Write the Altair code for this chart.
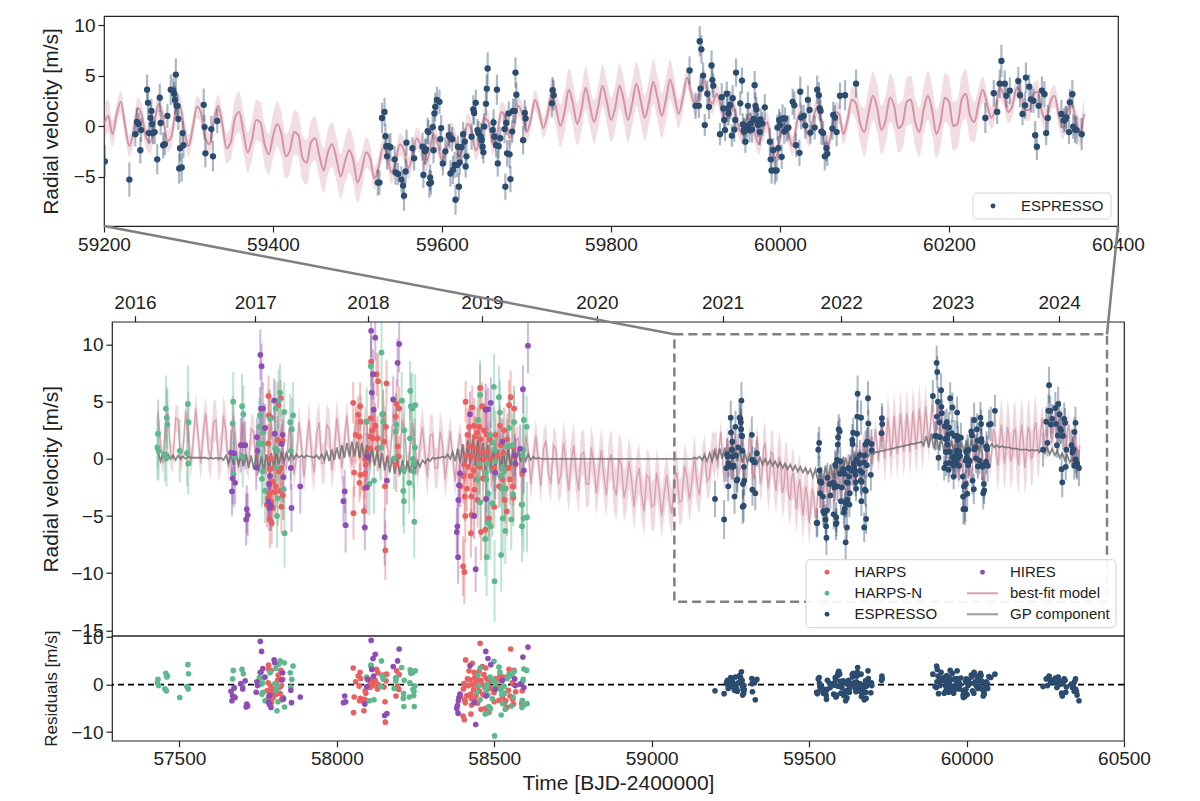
import altair as alt
import pandas as pd

# ------------------------------------------------------------------ data
INSTR = ["HARPS", "HARPS-N", "ESPRESSO", "HIRES"]

harps_t = [57783, 57814, 57822, 57784, 57791, 57782, 57812, 57828, 57790, 57788, 57801, 57817, 57823, 57796, 57806, 57785, 57803, 57820, 57829, 57781, 57792, 57824, 57797, 57787, 57793, 57778,
           58109, 58126, 58131, 58158, 58052, 58074, 58068, 58076, 58108, 58122, 58113, 58147, 58156, 58060, 58071, 58106, 58114, 58129, 58105, 58090, 58092, 58190, 58198, 58187, 58193, 58188, 58197, 58055, 58075, 58089, 58072, 58087, 58053, 58086, 58153, 58154, 58130, 58150,
           58455, 58409, 58552, 58430, 58462, 58473, 58547, 58563, 58420, 58436, 58452, 58467, 58518, 58531, 58415, 58438, 58446, 58457, 58475, 58487, 58504, 58520, 58541, 58557, 58423, 58441, 58459, 58478, 58411, 58432,
           58448, 58469, 58489, 58510, 58529, 58565, 58404, 58418, 58434, 58453, 58499, 58545, 58568, 58589, 58402, 58425, 58443, 58464, 58526, 58550, 58393, 58413, 58437, 58515, 58536, 58559, 58406, 58427, 58447, 58533,
           58561, 58587, 58408, 58428, 58458, 58472, 58426, 58401, 58405, 58483, 58540, 58500]
harps_rv = [5.5, 4.7, 5.3, 3.8, 3.6, 1.35, 1.65, 1.6, 0.05, -0.9, -0.8, -1.1, -0.8, -2.0, -2.4, -3.0, -2.9, -2.8, -3.2, -3.45, -3.75, -4.2, -4.3, -5.3, -5.6, -4.0,
            8.5, 7.4, 6.8, 6.6, 4.9, 4.6, 3.85, 3.25, 3.55, 2.9, 2.5, 3.9, 2.8, 2.1, 1.95, 1.95, 1.8, 0.9, 0.9, -0.05, -0.5, 4.8, 4.4, 3.7, 1.1, -0.5, 0.2, -1.2, -1.4, -1.3, -2.1, -2.55, -4.75, -4.55, -2.4, -8.0, 1.8, 1.5,
            6.2, 5.0, 5.4, 4.5, 4.6, 4.3, 4.7, 4.4, 2.8, 2.9, 2.8, 2.5, 2.9, 2.5, 2.1, 1.95, 2.3, 1.7, 2.1, 1.7, 2.1, 1.2, 1.7, 1.1, 1.1, 0.9, 0.6, 0.6, 0.3, 0.2,
            -0.1, -0.1, 0.0, 0.2, 0.5, 0.2, -0.5, -0.7, -1.0, -0.7, -0.8, -0.8, -0.5, -1.3, -1.5, -1.5, -1.8, -1.7, -1.8, -1.8, -2.4, -2.6, -2.7, -2.4, -2.6, -2.4, -3.3, -3.3, -3.6, -3.6,
            -3.4, -4.0, -5.0, -4.9, -6.4, -6.2, -6.5, -9.4, -9.9, -5.2, -4.6, -4.2]
harps_err = [1.8, 2.0, 1.6, 2.2, 1.9, 1.7, 2.1, 1.8, 2.3, 1.6, 1.9, 2.0, 1.7, 2.2, 1.8, 2.4, 1.9, 1.6, 2.1, 2.0, 1.8, 2.3, 1.7, 2.5, 1.9, 2.0,
             2.2, 1.9, 2.4, 2.0, 1.8, 2.1, 1.7, 2.3, 1.9, 2.0, 1.6, 2.2, 1.8, 2.5, 1.9, 1.7, 2.1, 2.0, 1.8, 2.3, 1.6, 2.2, 1.9, 2.0, 1.7, 2.4, 1.8, 2.1, 1.9, 2.2, 1.7, 2.0, 2.3, 1.8, 2.1, 2.6, 1.9, 2.0,
             2.0, 1.8, 2.3, 1.9, 2.1, 1.7, 2.2, 2.0, 1.8, 2.4, 1.9, 2.1, 1.7, 2.0, 2.3, 1.8, 2.2, 1.9, 2.0, 1.6, 2.1, 2.4, 1.8, 2.0, 1.9, 2.2, 1.7, 2.3, 2.0, 1.8,
             2.1, 1.9, 2.5, 1.8, 2.0, 2.2, 1.7, 2.1, 1.9, 2.3, 2.0, 1.8, 2.2, 1.9, 2.4, 2.0, 1.7, 2.1, 1.9, 2.2, 1.8, 2.0, 2.3, 1.9, 2.1, 1.7, 2.2, 2.0, 2.4, 1.8,
             2.1, 1.9, 2.3, 2.0, 2.5, 2.2, 2.1, 2.6, 2.8, 2.0, 2.2, 1.9]
harps_res = [4.1, 2.0, 3.0, 3.2, 2.9, 0.4, 0.9, 1.1, -0.3, -1.2, -1.0, -0.6, -0.3, -1.5, -2.0, -2.6, -2.2, -1.9, -2.7, -3.1, -3.8, -3.2, -2.8, -3.8, -2.4, -1.3,
             3.8, 3.2, 2.5, 2.2, 3.5, 2.6, 1.8, 1.3, 1.1, 0.9, 0.4, 2.0, 0.8, 0.6, -0.3, 0.2, -0.2, -0.9, -0.6, -1.3, -1.8, 2.9, 2.1, 1.4, -0.3, -2.4, -1.0, -2.6, -2.9, -3.1, -3.4, -3.8, -5.9, -5.5, -3.6, -7.9, 0.1, -0.5,
             8.7, 5.2, 7.5, 4.5, 3.8, 3.5, 3.2, 3.0, 2.9, 2.6, 2.8, 2.1, 2.0, 1.6, 1.2, 1.5, 1.0, 0.9, 1.3, 0.7, 1.2, 0.9, 1.4, 0.4, 1.0, 0.6, 0.3, 0.1, -0.2, 0.0,
             -0.4, -0.5, -0.8, -0.6, -0.3, -0.1, 0.2, -0.2, -1.1, -1.4, -1.7, -1.2, -1.5, -1.3, -0.9, -2.0, -2.2, -2.1, -2.6, -2.4, -2.5, -2.3, -3.0, -3.3, -3.4, -3.1, -3.2, -2.9, -3.9, -3.7,
             -4.1, -4.0, -3.8, -4.3, -5.2, -5.0, -6.2, -6.6, -7.4, -5.8, -4.8, -3.6]

harpsn_t = [57430, 57432, 57434, 57454, 57457, 57460, 57462, 57459, 57501, 57527, 57529, 57524, 57528,
            57671, 57669, 57699, 57703, 57672, 57674, 57701, 57754, 57756, 57764, 57759, 57752, 57767, 57765, 57762, 57772, 57788, 57806, 57815, 57820, 57804, 57812, 57807, 57831, 57813, 57810, 57833, 57852, 57857, 57861, 57854, 57834,
            58142, 58108, 58233, 58235, 58249, 58240, 58206, 58214, 58232, 58144, 58147, 58095, 58187, 58189, 58248, 58140, 58182, 58242, 58245, 58212, 58244, 58118, 58230, 58211, 58213, 58246, 58103,
            58499, 58515, 58455, 58518, 58448, 58594, 58603, 58547, 58563, 58487, 58497, 58501, 58541, 58557, 58592, 58590, 58452, 58478, 58504, 58526,
            58473, 58502, 58531, 58520, 58446, 58475, 58524, 58533, 58560, 58480, 58455, 58494, 58589, 58527, 58554, 58593, 58604, 58483, 58488, 58471, 58535, 58588, 58476, 58522, 58501]
harpsn_rv = [1.0, 2.2, 0.7, 0.4, 4.4, 3.6, 3.0, 0.05, 0.7, 4.8, 3.2, 0.5, -0.4,
             5.0, 3.1, 4.6, 3.9, -1.35, 0.2, 0.2, 2.8, 3.8, 1.3, 1.3, 1.4, 2.3, -1.1, -1.75, -2.8, 3.5, 4.4, 5.1, 5.8, 0.9, 0.7, -0.75, -2.65, -3.45, -5.0, 4.1, 3.2, 2.6, 3.8, 0.7, -6.5,
             9.3, 8.1, 5.95, 4.6, 4.7, 4.4, 5.1, 2.5, 1.8, 3.9, 3.25, 3.25, 2.4, 3.0, 1.0, 1.0, 0.05, 0.0, -0.4, -1.0, -1.1, -1.9, -2.1, -2.8, -3.7, -5.5, -2.2,
             6.3, 5.4, 5.6, 4.05, 3.4, 3.4, 2.8, 2.7, 3.2, 2.1, 1.4, 0.8, 1.1, 1.2, 0.8, 0.3, -0.4, -0.4, -0.2, -0.7,
             -1.2, -1.2, -1.1, -1.5, -1.8, -1.8, -2.6, -2.6, -3.1, -3.0, -3.8, -3.9, -4.0, -5.2, -5.3, -5.2, -5.1, -5.6, -5.9, -7.0, -6.3, -5.9, -8.6, -8.4, -10.7]
harpsn_err = [2.8, 3.0, 2.6, 2.4, 2.9, 2.7, 3.1, 2.5, 2.8, 3.4, 2.6, 2.9, 2.7,
              2.6, 2.4, 2.8, 2.5, 2.9, 2.3, 2.7, 2.6, 2.5, 2.8, 2.4, 2.7, 2.6, 2.9, 2.5, 2.8, 2.6, 2.4, 2.7, 2.5, 2.8, 2.6, 2.9, 2.7, 2.4, 2.8, 2.6, 2.5, 2.7, 2.9, 2.6, 3.0,
              3.0, 2.8, 2.6, 2.9, 2.7, 3.1, 2.5, 2.8, 2.6, 2.9, 2.7, 3.0, 2.6, 2.8, 2.5, 2.9, 2.7, 2.6, 3.0, 2.8, 2.6, 2.9, 2.7, 3.1, 2.8, 3.2, 2.7,
              2.9, 2.7, 3.1, 2.8, 2.6, 3.0, 2.7, 2.9, 2.8, 2.6, 3.1, 2.7, 2.9, 2.8, 3.0, 2.6, 2.8, 3.1, 2.7, 2.9,
              2.6, 3.0, 2.8, 2.7, 3.2, 2.9, 2.6, 3.0, 2.8, 2.7, 3.1, 2.9, 2.8, 3.0, 2.7, 2.9, 3.1, 2.8, 3.0, 3.3, 2.9, 3.1, 3.4, 3.2, 3.6]
harpsn_res = [0.4, 1.1, -0.2, -0.9, 2.4, 1.6, 1.8, -1.3, -2.7, 4.2, 2.3, -0.4, -0.9,
              3.0, 1.2, 3.2, 2.3, -2.4, -0.8, -0.4, 1.5, 2.6, 0.3, 0.1, 0.6, 1.4, -1.6, -2.0, -3.4, 2.5, 3.4, 4.3, 5.0, 0.2, -0.3, -1.2, -3.0, -3.6, -5.5, 4.6, 2.5, 1.1, 3.9, -0.5, -4.7,
              5.0, 4.1, 3.1, 2.4, 2.9, 2.5, 3.6, 0.9, 0.4, 1.8, 1.2, 1.6, 0.8, 1.5, -0.3, -0.4, -0.8, -1.0, -1.4, -1.9, -2.3, -3.2, -2.6, -2.9, -4.6, -4.6, -3.4,
              4.9, 3.7, 3.5, 2.6, 2.0, 3.3, 3.0, 2.2, 2.8, 1.6, 0.9, 0.5, 1.3, 1.8, 1.1, 0.6, -0.2, 0.1, 0.3, -0.5,
              -0.8, -0.6, -0.4, -1.0, -1.6, -1.2, -2.0, -1.8, -2.6, -2.2, -3.2, -3.0, -3.3, -4.0, -4.5, -4.4, -4.0, -4.6, -5.0, -6.2, -5.2, -4.8, -6.0, -6.4, -10.8]

hires_t = [57757, 57761, 57759, 57765, 57801, 57772, 57746, 57803, 57828, 57825, 57695, 57701, 57709, 57664, 57674, 57748, 57669, 57677, 57667, 57744,
           57788, 57830, 57854, 57884, 57785, 57714, 57717, 57712, 57783, 57791, 57786, 57856,
           58109, 58122, 58198, 58193, 58115, 58111, 58117, 58179, 58097, 58095, 58025, 58021, 58028, 58089, 58159, 58152,
           58607, 58591, 58423, 58473, 58480, 58489, 58526, 58582, 58565, 58567, 58594, 58503, 58391, 58388, 58386, 58436, 58383, 58381, 58385, 58441, 58474]
hires_rv = [9.1, 8.1, 4.4, 4.4, 5.1, 2.7, 1.9, 2.2, 2.1, 1.3, 1.2, 1.2, 1.2, 0.55, 0.5, 0.7, -1.7, -2.1, -2.85, -0.75,
            -1.5, -1.6, -0.8, -2.4, -2.2, -4.4, -4.9, -5.3, -3.75, -4.1, -4.3, -4.3,
            11.2, 10.6, 10.05, 8.4, 7.4, 5.8, 4.3, 5.2, 0.2, -2.5, -2.85, -3.7, -5.8, -6.0, -1.9, -6.85,
            9.9, 6.1, 3.9, 4.3, 4.35, 4.9, 1.5, 0.9, 0.3, -0.4, -1.0, -1.2, -1.25, -2.3, -3.6, -5.0, -5.9, -6.4, -8.6, -9.65, -3.5]
hires_err = [2.2, 2.0, 1.8, 2.3, 1.9, 2.1, 1.7, 2.2, 2.0, 1.8, 2.4, 1.9, 2.1, 2.0, 1.8, 2.2, 2.3, 1.9, 2.1, 2.0,
             1.8, 2.2, 1.9, 2.4, 2.0, 2.1, 1.9, 2.3, 1.8, 2.2, 2.0, 2.1,
             2.3, 2.0, 2.5, 2.1, 2.2, 1.9, 2.4, 2.0, 2.1, 2.3, 1.9, 2.2, 2.4, 2.0, 2.1, 2.5,
             2.4, 2.1, 2.0, 2.3, 1.9, 2.2, 2.0, 2.1, 1.8, 2.2, 2.0, 2.3, 2.1, 1.9, 2.2, 2.0, 2.4, 2.1, 2.3, 2.0, 2.2]
hires_res = [9.1, 7.0, 2.6, 3.4, 5.2, 1.6, 0.6, 4.6, 2.5, 1.0, 0.2, -0.9, 0.8, -1.4, -0.6, -0.2, -2.4, -2.7, -3.4, -1.6,
             -2.2, -3.0, -1.2, -2.6, -2.4, -4.1, -4.5, -4.7, -3.7, -4.8, -4.2, -3.8,
             9.3, 6.4, 7.5, 5.0, 5.5, 3.2, 1.8, 3.8, 1.1, -0.4, -2.4, -3.8, -3.6, -4.1, -6.1, -6.5,
             7.9, 5.8, 4.0, 7.0, 5.5, 4.2, 0.9, 0.1, 1.2, -0.2, -0.6, -1.0, -2.0, -2.7, -3.4, -3.8, -4.4, -5.0, -6.0, -8.4, -2.4]

esp_t = [59201, 59230, 59237, 59239, 59241, 59243, 59244, 59251, 59252, 59253, 59255, 59256, 59257, 59258, 59260, 59263, 59266, 59267, 59270, 59272,
         59275, 59279, 59282, 59283, 59284, 59285, 59286, 59287, 59288, 59289, 59290, 59292, 59293, 59294, 59318, 59319, 59320, 59327, 59329, 59334,
         59524, 59526, 59529, 59532, 59533, 59534, 59535, 59537, 59539, 59544, 59545, 59548, 59552, 59554, 59555, 59557, 59558, 59565, 59567, 59577,
         59578, 59580, 59581, 59583, 59584, 59585, 59586, 59587, 59589, 59590, 59591, 59592, 59594, 59597, 59598, 59599, 59601, 59604, 59608, 59609,
         59610, 59612, 59613, 59615, 59616, 59618, 59619, 59620, 59621, 59623, 59625, 59627, 59628, 59629, 59635, 59637, 59638, 59640, 59642, 59643,
         59646, 59647, 59648, 59649, 59650, 59652, 59653, 59654, 59660, 59661, 59662, 59664, 59665, 59666, 59667, 59669, 59674, 59675, 59676, 59677,
         59679, 59680, 59681, 59683, 59684, 59686, 59687, 59688, 59696, 59698, 59699, 59730, 59731, 59732,
         59893, 59900, 59904, 59905, 59907, 59906, 59909, 59911, 59914, 59916, 59919, 59920, 59921, 59929, 59931, 59933, 59934, 59935, 59937, 59938,
         59939, 59941, 59943, 59944, 59946, 59947, 59948, 59953, 59955, 59956, 59957, 59958, 59959, 59961, 59962, 59964, 59965, 59967, 59969, 59970,
         59971, 59972, 59973, 59974, 59976, 59977, 59979, 59982, 59988, 59989, 59990, 59992, 59994, 59996, 59997, 59998, 59999, 60000, 60002, 60003,
         60005, 60006, 60008, 60010, 60015, 60017, 60019, 60023, 60024, 60025, 60028, 60030, 60033, 60035, 60036, 60041, 60044, 60046, 60047, 60048,
         60049, 60051, 60053, 60055, 60056, 60062, 60063, 60065, 60067, 60071, 60077, 60090,
         60243, 60253, 60257, 60260, 60262, 60266, 60268, 60272, 60282, 60284, 60287, 60290, 60291, 60295, 60297, 60300, 60302, 60304, 60306, 60310,
         60313, 60315, 60317, 60333, 60336, 60338, 60339, 60342, 60343, 60346, 60347, 60349, 60351, 60357]
esp_rv = [-3.5, -5.3, -0.8, 0.4, 0.2, -2.4, -0.4, 3.6, 2.3, -0.7, 0.8, 1.5, 0.2, -0.7, -0.6, -3.3, 2.8, 0.3, -1.9, -1.8,
          1.0, 3.6, 3.5, 3.2, 2.6, 5.1, 2.0, 2.0, 0.7, -4.2, -2.2, -4.1, -0.7, -1.9, 2.1, -0.1, -2.7, -0.3, -3.0, 0.5,
          -5.6, -5.6, 0.8, 1.4, -1.0, -2.0, -3.0, -2.0, -2.1, -3.3, -4.6, -4.75, -5.3, -5.9, -6.9, -4.5, -1.65, -2.2, -3.2, -2.05,
          -4.85, -2.5, -2.3, -0.5, -0.6, -5.7, -5.1, -5.6, -0.1, -2.4, 1.25, 1.9, 2.6, 2.4, -1.3, -0.2, -3.7, -2.5, -0.9, -1.05,
          -4.7, -1.3, -4.35, -3.85, -7.3, -3.85, -2.05, -6.0, -3.6, -2.1, -0.8, -1.55, -4.0, -3.0, -1.05, 1.65, 1.3, 2.3, -0.4, -0.7,
          -1.05, -1.4, -2.05, -2.6, -0.05, 2.2, 3.7, 5.7, -0.4, 0.35, -1.05, -1.9, 3.6, -3.7, -2.0, -1.2, -0.3, -6.0, 0.3, -2.7,
          1.25, -2.8, -5.25, -0.55, 1.5, 1.5, 5.3, 3.1, -1.4, 1.3, 0.75, 2.25, 3.55, 3.05,
          5.5, 2.0, 2.0, 8.4, 7.6, 3.7, 5.0, 0.1, 3.2, 1.9, 6.0, 4.55, 4.0, -0.8, 2.85, 1.75, 0.6, -0.4, 3.2, 1.75,
          1.25, 2.1, -0.95, 2.75, -0.35, 0.6, 5.3, 2.25, 4.5, 0.15, -0.4, -0.55, -1.55, 0.0, 2.0, -0.4, 0.25, -0.35, 0.7, 4.05,
          2.0, 1.65, 0.45, 0.1, -0.6, 0.65, 0.25, 1.85, -1.55, -3.3, -4.4, -2.4, -4.4, -4.4, -0.15, -2.2, 0.6, 0.1, -3.05, 0.75,
          -0.55, 0.75, -0.25, -0.15, 2.4, 2.05, -1.9, -2.65, 3.4, 0.85, 1.0, 0.05, 2.6, 1.6, -0.65, -0.15, 3.6, 3.05, 1.75, 1.5,
          -0.55, -0.7, -3.0, -2.2, -2.75, -0.25, 1.1, 0.85, -0.6, 3.0, 3.05, 4.2,
          0.8, 3.25, 1.4, 4.2, 6.45, 4.2, 3.0, 3.5, 4.45, 3.05, 1.2, 2.05, 4.8, 3.9, 2.65, 2.5, -0.9, -2.05, 2.0, 3.5,
          3.15, -0.7, 0.8, 1.2, 0.55, 0.7, 0.85, -0.6, 2.35, 3.15, -0.05, -0.35, -0.4, -0.8]
esp_err = [1.6, 1.7, 1.2, 1.4, 1.1, 1.3, 1.2, 1.5, 1.3, 1.1, 1.4, 1.2, 1.3, 1.1, 1.2, 1.5, 1.4, 1.2, 1.3, 1.1,
           1.2, 1.5, 1.3, 1.2, 1.4, 1.6, 1.3, 1.2, 1.1, 1.5, 1.3, 1.4, 1.2, 1.3, 1.6, 1.2, 1.4, 1.3, 1.5, 1.2,
           1.3, 1.2, 1.5, 1.4, 1.2, 1.1, 1.3, 1.2, 1.4, 1.3, 1.2, 1.1, 1.3, 1.4, 1.5, 1.2, 1.3, 1.1, 1.2, 1.4,
           1.3, 1.2, 1.1, 1.3, 1.2, 1.4, 1.3, 1.2, 1.1, 1.3, 1.2, 1.4, 1.3, 1.2, 1.1, 1.3, 1.2, 1.4, 1.1, 1.2,
           1.3, 1.2, 1.4, 1.3, 1.5, 1.2, 1.1, 1.3, 1.2, 1.4, 1.2, 1.3, 1.1, 1.2, 1.3, 1.4, 1.2, 1.3, 1.1, 1.2,
           1.4, 1.3, 1.2, 1.1, 1.3, 1.2, 1.4, 1.6, 1.2, 1.3, 1.1, 1.2, 1.5, 1.3, 1.2, 1.1, 1.4, 1.3, 1.2, 1.3,
           1.2, 1.4, 1.3, 1.1, 1.2, 1.3, 1.5, 1.2, 1.4, 1.3, 1.2, 1.4, 1.3, 1.5,
           1.4, 1.3, 1.2, 1.5, 1.4, 1.2, 1.3, 1.1, 1.3, 1.2, 1.5, 1.3, 1.2, 1.1, 1.4, 1.2, 1.3, 1.1, 1.2, 1.3,
           1.2, 1.4, 1.1, 1.3, 1.2, 1.1, 1.4, 1.2, 1.3, 1.1, 1.2, 1.3, 1.1, 1.2, 1.4, 1.2, 1.1, 1.3, 1.2, 1.4,
           1.3, 1.2, 1.1, 1.2, 1.3, 1.1, 1.2, 1.3, 1.4, 1.2, 1.3, 1.2, 1.4, 1.1, 1.3, 1.2, 1.1, 1.3, 1.2, 1.4,
           1.2, 1.1, 1.3, 1.2, 1.3, 1.4, 1.2, 1.3, 1.5, 1.2, 1.1, 1.3, 1.4, 1.2, 1.1, 1.2, 1.4, 1.3, 1.2, 1.1,
           1.3, 1.2, 1.4, 1.3, 1.2, 1.1, 1.3, 1.2, 1.4, 1.3, 1.5, 1.4,
           1.5, 1.3, 1.2, 1.4, 1.6, 1.3, 1.2, 1.3, 1.4, 1.2, 1.1, 1.3, 1.5, 1.2, 1.3, 1.2, 1.4, 1.3, 1.2, 1.4,
           1.3, 1.2, 1.3, 1.4, 1.2, 1.3, 1.1, 1.2, 1.3, 1.4, 1.2, 1.3, 1.4, 1.6]
esp_res = [-1.3, -1.9, 0.2, 0.6, 0.9, -0.8, 0.4, 1.5, 1.2, -0.2, 0.3, 0.8, 0.5, -0.5, 0.1, -1.2, 1.6, 0.0, -0.9, -1.4,
           0.4, 1.9, 1.6, 1.1, 0.9, 2.7, 0.6, 0.9, -0.3, -2.2, -1.0, -1.8, -0.2, -1.1, 1.3, 0.2, -1.5, 0.4, -3.2, 1.1,
           -1.6, -1.9, 1.2, 1.5, 0.3, -0.4, -1.1, -0.2, -0.5, -0.9, -1.8, -1.5, -1.9, -2.3, -3.1, -1.0, 0.9, 0.3, -0.6, 0.2,
           -2.0, -0.1, 0.4, 1.5, 1.2, -2.6, -2.2, -2.4, 1.8, -0.3, 2.0, 2.4, 2.8, 2.2, -0.4, 0.7, -1.8, -0.6, 0.8, 0.6,
           -2.3, 0.5, -1.9, -1.4, -3.4, -1.5, 0.2, -2.8, -1.2, 0.1, 0.9, 0.3, -1.6, -0.8, 0.2, 2.1, 1.6, 2.4, 0.4, 0.0,
           -0.4, -0.7, -1.1, -1.5, 0.6, 1.8, 2.6, 3.6, -0.8, 0.2, -0.9, -1.5, 2.2, -2.5, -1.0, -0.5, -0.6, -3.2, 0.0, -1.7,
           0.8, -1.6, -2.9, -0.3, 0.6, 0.5, 2.9, 1.3, -1.7, 0.4, -0.2, 0.9, 1.8, 1.3,
           2.2, -0.4, -0.6, 3.9, 3.2, 0.6, 1.8, -1.9, 0.9, -0.2, 2.6, 1.4, 0.8, -1.8, 1.6, 0.7, -0.3, -1.2, 1.9, 0.6,
           0.2, 1.0, -1.6, 1.5, -0.9, 0.0, 3.0, 1.1, 2.4, -0.6, -1.0, -1.1, -1.8, -0.4, 1.2, -0.9, -0.2, -0.7, 0.3, 2.9,
           1.3, 0.9, 0.0, -0.3, -0.9, 0.3, -0.1, 1.4, -1.2, -2.2, -2.7, -1.4, -2.5, -2.3, 0.6, -1.0, 1.2, 0.5, -2.1, 1.0,
           -0.2, 0.9, 0.2, 0.3, 2.0, 1.6, -1.3, -1.8, 2.6, 0.4, 0.6, -0.2, 1.8, 0.9, -0.8, -0.3, 2.4, 1.9, 0.8, 0.6,
           -0.9, -1.0, -2.4, -1.6, -2.0, -0.4, 0.6, 0.3, -0.8, 1.7, 1.5, 2.2,
           -0.4, 1.2, -0.2, 1.5, 1.8, 1.0, 0.5, 0.9, 1.4, 0.4, -0.6, -0.2, 1.6, 0.8, 0.1, 0.3, -1.8, -2.4, 0.2, 1.2,
           0.9, -1.6, -0.5, 0.1, -0.6, -0.4, -0.2, -1.4, 0.6, 1.2, -1.0, -1.5, -2.2, -3.4]

# best-fit model: 8-day grid from BJD 57432, then 5-day grid from BJD 59200
model_early = [4.2, 1.2, -0.4, 3.0, 4.0, 0.4, 0.0, 3.6, 3.4, -0.2, 0.8, 4.2, 2.6, -0.6, 1.6, 4.4, 1.8, -0.4, 2.4, 4.0,
               0.8, 0.0, 3.2, 3.4, -0.2, 0.6, 3.8, 2.4, -0.8, 1.4, 3.8, 1.2, -0.8, 2.0, 3.2, 0.2, -0.4, 2.6, 2.4, -0.8,
               0.2, 3.0, 1.8, -1.4, 1.0, 3.2, 0.6, -1.2, 1.8, 2.8, -0.4, -0.8, 2.6, 2.0, -1.4, 0.2, 3.2, 1.0, -1.6, 1.2,
               3.4, 0.2, -1.2, 2.2, 3.2, -0.4, -0.4, 3.0, 2.6, -1.0, 0.6, 3.6, 1.6, -0.8, 1.6, 3.8, 0.8, -0.6, 2.4, 3.6,
               0.0, 0.2, 3.4, 3.0, -0.6, 1.0, 4.0, 2.0, -0.8, 1.8, 4.0, 1.2, -0.4, 2.8, 3.4, 0.0, 0.2, 3.4, 2.4, -1.0,
               0.6, 3.2, 1.6, -1.4, 1.2, 2.8, 0.4, -1.6, 2.0, 2.2, -0.8, -0.8, 2.4, 1.2, -1.8, 0.2, 2.4, 0.2, -2.0, 0.8,
               2.2, -0.4, -2.0, 1.4, 2.2, -1.2, -1.4, 2.0, 1.6, -1.8, -0.6, 2.4, 0.8, -2.0, 0.2, 2.6, 0.0, -2.0, 1.0, 2.4,
               -0.8, -1.6, 1.6, 1.8, -1.6, -0.8, 2.0, 0.8, -2.2, 0.0, 2.0, -0.2, -2.4, 0.8, 1.6, -1.2, -2.2, 1.2, 0.8, -2.2,
               -1.4, 1.4, -0.2, -2.8, -0.4, 1.2, -1.2, -2.8, 0.4, 0.6, -2.2, -2.2, 1.0, -0.4, -3.0, -1.2, 0.8, -1.4, -3.2, -0.2,
               0.4, -2.4, -3.2, 0.0, -0.6, -3.4, -2.4, -0.2, -1.8, -4.2, -1.8, -0.8, -3.2, -4.6, -1.4, -1.6, -4.2, -4.0, -1.2, -2.8,
               -5.0, -3.0, -1.4, -3.6, -4.8, -1.8, -1.2, -3.8, -3.6, -0.6, -1.6, -3.6, -2.0, 0.2, -2.2, -3.2, -0.6, 0.6, -2.0, -1.6, 0.8]
model_late = [0.2, 1.0, -0.8, 1.2, 2.4, 0.0, -2.0, -0.5, 1.8, 1.0, -1.2, -1.6, 0.6, 2.2, 0.8, -1.5, -1.0, 1.6, 2.0, -0.4,
              -2.0, -0.2, 1.9, 1.2, -1.2, -1.8, 0.5, 2.0, 0.2, -2.2, -1.6, 0.8, 1.4, -0.6, -2.6, -1.4, 0.6, 0.4, -1.8, -2.8,
              -1.0, 0.2, -0.8, -3.0, -2.4, -0.6, -0.9, -3.2, -3.6, -1.6, -1.2, -3.0, -4.4, -2.6, -1.8, -3.2, -5.0, -3.6, -2.4, -3.4,
              -5.6, -4.4, -2.6, -3.2, -5.2, -4.0, -2.2, -2.8, -4.6, -3.6, -1.8, -2.4, -4.2, -3.0, -1.2, -2.0, -3.8, -2.6, -0.8, -1.8,
              -3.4, -2.4, -0.6, -1.2, -3.0, -2.0, 0.2, -0.4, -2.4, -1.4, 0.8, 0.4, -1.8, -1.0, 1.4, 1.0, -1.2, -0.2, 2.0, 1.2,
              -0.6, 0.6, 2.6, 1.4, -0.2, 1.2, 3.2, 1.8, 0.0, 1.4, 3.6, 2.2, 0.2, 1.6, 3.8, 2.0, 0.4, 2.0, 4.0, 2.4,
              0.6, 1.8, 4.0, 2.6, 0.6, 2.2, 4.2, 2.6, 0.8, 2.4, 4.4, 2.8, 1.0, 2.6, 4.6, 3.0, 1.2, 2.8, 4.8, 3.2,
              2.0, 3.6, 4.6, 3.0, 2.2, 3.2, 2.0, 0.6, 1.4, 2.0, 0.2, -0.8, 0.6, 1.2, -0.6, -1.8, -0.4, 0.4, -2.0, -3.2,
              -1.2, 0.2, -0.8, -2.0, 0.4, 1.4, -0.2, -1.0, 1.0, 2.0, -0.2, -2.4, -1.0, 1.4, 1.2, -0.8, 0.6, 2.6, 2.2, 0.2,
              -0.6, 1.4, 3.0, 1.8, -0.4, 0.6, 2.8, 2.0, -0.2, 0.2, 2.4, 2.6, 0.4, -0.6, 1.6, 3.0, 1.6, -0.8, 0.4, 2.8,
              2.4, 0.0, 0.2, 2.6, 3.2, 1.0, 0.4, 2.2, 3.6, 2.2, 0.8, 1.8, 3.8, 3.0, 1.4, 2.0, 3.8, 3.4, 1.6, 1.6,
              3.2, 3.4, 1.4, 0.6, 2.4, 3.0, 1.0, -0.2, 1.4, 2.4, 0.6, -0.6, 1.2]
band_early = [1.2, 1.2, 1.2, 1.2, 1.2, 1.2, 1.2, 1.2, 1.2, 1.2, 1.2, 1.2, 1.2, 1.2, 1.5, 1.5, 1.5, 1.5, 1.5, 1.5,
              1.8, 1.8, 1.8, 1.8, 1.8, 1.8, 1.8, 1.8, 1.4, 1.4, 1.4, 1.4, 1.4, 1.4, 1.4, 1.4, 1.4, 1.4, 1.4, 1.4,
              1.2, 1.2, 1.2, 1.2, 1.2, 1.2, 1.2, 1.2, 1.2, 1.2, 1.2, 1.2, 1.2, 1.2, 1.2, 1.2, 1.5, 1.5, 1.5, 1.5,
              1.8, 1.8, 1.8, 1.8, 1.8, 1.8, 1.8, 1.8, 1.8, 1.8, 1.8, 1.8, 1.8, 1.8, 1.4, 1.4, 1.4, 1.4, 1.4, 1.4,
              1.2, 1.2, 1.2, 1.2, 1.2, 1.2, 1.2, 1.2, 1.2, 1.2, 1.2, 1.2, 1.2, 1.2, 1.2, 1.2, 1.2, 1.2, 1.2, 1.2,
              1.2, 1.2, 1.2, 1.2, 1.8, 1.8, 1.8, 1.8, 1.8, 1.8, 1.8, 1.8, 1.8, 1.8, 1.8, 1.8, 1.4, 1.4, 1.4, 1.4,
              1.1, 1.1, 1.1, 1.1, 1.1, 1.1, 1.1, 1.1, 1.1, 1.1, 1.1, 1.1, 1.1, 1.1, 1.1, 1.1, 1.1, 1.1, 1.1, 1.1,
              1.1, 1.1, 1.1, 1.1, 1.1, 1.1, 1.1, 1.1, 1.6, 1.6, 1.6, 1.6, 1.6, 1.6, 1.6, 1.6, 1.6, 1.6, 1.6, 1.6,
              2.0, 2.0, 2.0, 2.0, 2.0, 2.0, 2.0, 2.0, 2.0, 2.0, 2.0, 2.0, 2.0, 2.0, 2.0, 2.0, 2.0, 2.0, 2.0, 2.0,
              2.2, 2.2, 2.2, 2.2, 2.2, 2.2, 2.2, 2.2, 2.2, 2.2, 2.2, 2.2, 2.2, 2.2, 2.2, 2.2, 2.2, 2.2, 2.2, 2.2,
              2.0, 2.0, 2.0, 2.0, 2.0, 2.0, 2.0, 2.0, 2.0, 2.0, 2.0, 2.0, 2.0, 2.0, 2.0, 1.6, 1.6, 1.6, 1.6, 1.6, 1.6]
band_late = [2.0, 1.6, 1.3, 1.1, 1.1, 1.1, 1.1, 1.1, 1.1, 1.1, 1.1, 1.1, 1.1, 1.1, 1.1, 1.1, 1.1, 1.1, 1.1, 1.1,
             1.1, 1.1, 1.1, 1.1, 1.1, 1.1, 1.1, 1.1, 1.3, 1.5, 1.7, 1.9, 2.0, 2.0, 2.0, 2.0, 2.0, 2.0, 2.0, 2.0,
             2.2, 2.2, 2.2, 2.2, 2.2, 2.2, 2.2, 2.2, 2.2, 2.2, 2.2, 2.2, 2.2, 2.2, 2.2, 2.2, 2.2, 2.2, 2.2, 2.2,
             2.0, 1.8, 1.5, 1.3, 1.1, 1.1, 1.1, 1.1, 1.1, 1.1, 1.1, 1.1, 1.1, 1.1, 1.1, 1.1, 1.1, 1.1, 1.1, 1.1,
             1.0, 1.0, 1.0, 1.0, 1.0, 1.0, 1.0, 1.0, 1.0, 1.0, 1.0, 1.0, 1.0, 1.0, 1.0, 1.0, 1.0, 1.0, 1.0, 1.0,
             1.0, 1.0, 1.0, 1.0, 1.0, 1.3, 1.6, 1.9, 2.1, 2.1, 2.1, 2.1, 2.1, 2.1, 2.1, 2.1, 2.1, 2.1, 2.1, 2.1,
             2.2, 2.2, 2.2, 2.2, 2.2, 2.2, 2.2, 2.2, 2.2, 2.2, 2.2, 2.2, 2.2, 2.2, 2.0, 1.7, 1.4, 1.2, 1.0, 1.0,
             1.0, 1.0, 1.0, 1.0, 1.0, 1.0, 1.0, 1.0, 1.0, 1.0, 1.0, 1.0, 1.0, 1.0, 1.0, 1.0, 1.0, 1.0, 1.0, 1.0,
             1.0, 1.0, 1.0, 1.0, 1.0, 1.0, 1.0, 1.0, 1.0, 1.0, 1.0, 1.0, 1.0, 1.0, 1.0, 1.0, 1.0, 1.3, 1.6, 1.9,
             2.4, 2.4, 2.4, 2.4, 2.4, 2.4, 2.4, 2.4, 2.4, 2.4, 2.4, 2.4, 2.4, 2.4, 2.4, 2.4, 2.4, 2.4, 2.4, 2.4,
             2.4, 2.4, 2.4, 2.4, 2.4, 2.4, 2.0, 1.6, 1.3, 1.1, 1.1, 1.1, 1.1, 1.1, 1.1, 1.1, 1.1, 1.1, 1.1, 1.1,
             1.1, 1.1, 1.1, 1.1, 1.1, 1.1, 1.1, 1.1, 1.1, 1.1, 1.1, 1.4, 1.8]

# GP component: 8-day grid from BJD 57432
gp_vals = [0.6, -0.2, 0.5, -0.1, 0.4, 0.0, 0.3, -0.1, 0.3, 0.0, 0.2, 0.0, 0.2, 0.1, 0.1, 0.1, 0.1, 0.1, 0.1, 0.1,
           0.0, 0.1, 0.0, 0.1, 0.0, 0.1, -0.1, 0.3, -0.4, 0.4, -0.5, 0.4, -0.5, 0.3, -0.6, 0.4, -0.8, 0.3, -0.9, 0.4,
           -1.1, 0.2, -1.0, 0.4, -0.9, 0.5, -0.8, 0.6, -0.5, 0.6, -0.3, 0.5, -0.1, 0.5, 0.0, 0.4, 0.1, 0.3, 0.1, 0.3,
           0.2, 0.2, 0.1, 0.3, 0.0, 0.4, -0.1, 0.6, -0.2, 0.8, -0.1, 1.0, 0.0, 1.2, 0.1, 1.4, 0.2, 1.5, 0.2, 1.5,
           0.1, 1.4, -0.2, 1.2, -0.4, 1.0, -0.6, 0.7, -0.8, 0.5, -1.0, 0.3, -1.2, 0.1, -1.3, 0.0, -1.4, -0.1, -1.3, -0.2,
           -1.2, -0.3, -1.0, -0.2, -0.7, -0.1, -0.4, 0.0, -0.2, 0.1, 0.0, 0.1, 0.1, 0.2, 0.1, 0.4, 0.0, 0.6, -0.2, 0.9,
           -0.4, 1.3, -0.6, 1.6, -0.5, 1.8, -0.6, 1.6, -0.9, 1.4, -1.0, 1.2, -1.2, 1.0, -1.0, 0.8, -1.0, 0.8, -0.8, 0.9,
           -0.7, 0.9, -0.5, 0.8, -0.3, 0.6, -0.2, 0.4, -0.1, 0.2, 0.0, 0.1, 0.0, 0.0, 0.0, 0.0, 0.0, 0.0, 0.0, 0.0,
           0.0, 0.0, 0.0, 0.0, 0.0, 0.0, 0.0, 0.0, 0.0, 0.0, 0.0, 0.0, 0.0, 0.0, 0.0, 0.0, 0.0, 0.0, 0.0, 0.0,
           0.0, 0.0, 0.0, 0.0, 0.0, 0.0, 0.0, 0.0, 0.0, 0.0, 0.0, 0.0, 0.0, 0.0, 0.0, 0.0, 0.0, 0.0, 0.0, 0.0,
           0.0, 0.0, 0.0, 0.0, 0.0, 0.0, 0.0, 0.0, 0.0, 0.0, 0.0, 0.0, 0.0, 0.1, 0.0, 0.2, -0.1, 0.3, -0.2, 0.5,
           -0.2, 0.7, -0.1, 0.9, 0.0, 1.0, 0.0, 1.0, -0.1, 0.9, -0.2, 0.7, -0.3, 0.5, -0.3, 0.4, -0.4, 0.2, -0.4, 0.1,
           -0.5, 0.0, -0.5, -0.1, -0.6, -0.2, -0.7, -0.3, -0.8, -0.4, -0.9, -0.5, -1.0, -0.6, -1.1, -0.7, -1.2, -0.8, -1.3, -0.9,
           -1.6, -0.9, -1.9, -0.8, -2.0, -0.6, -1.9, -0.5, -1.7, -0.3, -1.4, -0.1, -1.1, 0.1, -0.8, 0.3, -0.5, 0.4, -0.3, 0.5,
           0.0, 0.6, 0.2, 0.6, 0.4, 0.6, 0.6, 0.7, 0.7, 0.8, 0.8, 0.9, 0.9, 1.0, 1.0, 1.1, 1.1, 1.2, 1.2, 1.3,
           1.3, 1.4, 1.4, 1.5, 1.2, 2.0, 1.0, 2.2, 0.9, 2.0, 0.8, 1.8, 0.7, 1.7, 0.6, 1.6, 0.6, 1.5, 0.5, 1.5,
           0.6, 1.6, 0.6, 1.7, 0.7, 1.6, 0.8, 1.5, 0.9, 1.4, 1.0, 1.3, 1.0, 1.2, 1.0, 1.1, 1.0, 1.0, 1.0, 0.9,
           0.9, 0.9, 0.8, 0.8, 0.8, 0.8, 0.7, 0.8, 0.7, 0.8, 0.6, 0.9, 0.5, 1.0, 0.4, 0.9, 0.3, 0.7, 0.1, 0.5,
           -0.1, 0.3, -0.3, 0.0, -0.5, -0.3, -0.6]

year_labels = ["2016", "2017", "2018", "2019", "2020", "2021", "2022", "2023", "2024"]
year_pos = [57359, 57741, 58099, 58461, 58826, 59225, 59602, 59956, 60294]

# ------------------------------------------------------------------ style / layout
COLORS = ["#E8605F", "#5DB88E", "#2B4B6F", "#8E4DB5"]
ESP = COLORS[2]
PINK = "#C97B8E"
GRAY = "#808080"
GP_GRAY = "#6A6A6A"
FONT = "Liberation Sans"
INK = "#222222"

TOP_W, TOP_H = 1014, 210
MAIN_W, MAIN_H = 1012, 314
RES_H = 105
GAP = 95.7
SHIFT = 8

X_TOP = [59200, 60400]
Y_TOP = [-9.9, 10.9]
X_MAIN = [57286, 60500]
Y_MAIN = [-15.47, 12.0]
Y_RES = [-11.8, 10.3]
BOX = (59072, 60446, -12.5, 10.9)  # x0, x1, y0, y1 of zoom box (data units)

# ------------------------------------------------------------------ frames
frames = []
for name, t, rv, err, res in [("HARPS", harps_t, harps_rv, harps_err, harps_res),
                              ("HARPS-N", harpsn_t, harpsn_rv, harpsn_err, harpsn_res),
                              ("ESPRESSO", esp_t, esp_rv, esp_err, esp_res),
                              ("HIRES", hires_t, hires_rv, hires_err, hires_res)]:
    assert len(t) == len(rv) == len(err) == len(res), (name, len(t), len(rv), len(err), len(res))
    frames.append(pd.DataFrame({"inst": name, "t": t, "rv": rv, "err": err, "res": res}))
pts = pd.concat(frames, ignore_index=True)
pts["lo"] = pts["rv"] - pts["err"]
pts["hi"] = pts["rv"] + pts["err"]
esp = pts[pts["inst"] == "ESPRESSO"]

assert len(model_early) == len(band_early) and len(model_late) == len(band_late)
mod = pd.DataFrame({
    "t": [57432 + 8 * i for i in range(len(model_early))] + [59200 + 5 * i for i in range(len(model_late))],
    "m": model_early + model_late,
    "w": band_early + band_late,
})
mod["lo"] = mod["m"] - mod["w"]
mod["hi"] = mod["m"] + mod["w"]
mod_top = mod[mod["t"] >= X_TOP[0]]
gp = pd.DataFrame({"t": [57432 + 8 * i for i in range(len(gp_vals))], "g": gp_vals})
one = pd.DataFrame({"k": [0]})

color = alt.Color("inst:N", scale=alt.Scale(domain=INSTR, range=COLORS), legend=None)

# ------------------------------------------------------------------ top (zoom) panel
top_x = alt.X("t:Q", scale=alt.Scale(domain=X_TOP, nice=False, zero=False),
              axis=alt.Axis(values=[59200, 59400, 59600, 59800, 60000, 60200, 60400], format="d",
                            title=None, labelFlush=False, labelOverlap=False))


def top_y(f):
    return alt.Y(f, scale=alt.Scale(domain=Y_TOP, nice=False, zero=False),
                 axis=alt.Axis(values=[-5, 0, 5, 10], title="Radial velocity [m/s]", titleX=-52.7,
                               titleBaseline="middle", titleAngle=270, labelOverlap=False))


t_band = alt.Chart(mod_top).mark_area(color=PINK, opacity=0.26, clip=True, interpolate="monotone").encode(
    x=top_x, y=top_y("lo:Q"), y2="hi:Q")
t_line = alt.Chart(mod_top).mark_line(color=PINK, opacity=0.75, strokeWidth=2, clip=True, interpolate="monotone").encode(
    x=top_x, y=top_y("m:Q"))
t_err = alt.Chart(esp).mark_rule(color=ESP, opacity=0.4, strokeWidth=2.2, clip=True).encode(x=top_x, y=top_y("lo:Q"), y2="hi:Q")
t_pts = alt.Chart(esp).mark_circle(color=ESP, size=40, opacity=1, clip=True).encode(x=top_x, y=top_y("rv:Q"))
t_legbox = alt.Chart(one).mark_rect(fill="white", stroke="#d0d0d0", strokeWidth=1, cornerRadius=4, opacity=0.9).encode(
    x=alt.value(869), x2=alt.value(1007), y=alt.value(177), y2=alt.value(203))
t_legsym = alt.Chart(one).mark_circle(color=ESP, size=24, opacity=1).encode(x=alt.value(889), y=alt.value(190))
t_legtxt = alt.Chart(one).mark_text(text="ESPRESSO", align="left", baseline="middle", font=FONT, fontSize=15, color=INK).encode(
    x=alt.value(917), y=alt.value(190))
top = alt.layer(t_band, t_line, t_err, t_pts, t_legbox, t_legsym, t_legtxt).properties(width=TOP_W, height=TOP_H)

# ------------------------------------------------------------------ main panel
year_expr = f"'{year_labels[-1]}'"
for p, lab in zip(reversed(year_pos[:-1]), reversed(year_labels[:-1])):
    year_expr = f"datum.value <= {p} ? '{lab}' : ({year_expr})"

main_x = alt.X("t:Q", scale=alt.Scale(domain=X_MAIN, nice=False, zero=False),
               axis=alt.Axis(orient="top", values=year_pos, labelExpr=year_expr, title=None,
                             labelFlush=False, labelOverlap=False))


def main_y(f):
    return alt.Y(f, scale=alt.Scale(domain=Y_MAIN, nice=False, zero=False),
                 axis=alt.Axis(values=[-15, -10, -5, 0, 5, 10], title="Radial velocity [m/s]", titleX=-61,
                               titleBaseline="middle", titleAngle=270, labelOverlap=False))


m_err = alt.Chart(pts).mark_rule(opacity=0.4, strokeWidth=2, clip=True).encode(x=main_x, y=main_y("lo:Q"), y2="hi:Q", color=color)
m_band = alt.Chart(mod).mark_area(color=PINK, opacity=0.28, clip=True).encode(x=main_x, y=main_y("lo:Q"), y2="hi:Q")
m_line = alt.Chart(mod).mark_line(color=PINK, opacity=0.6, strokeWidth=1.4, clip=True).encode(x=main_x, y=main_y("m:Q"))
m_gp = alt.Chart(gp).mark_line(color=GP_GRAY, opacity=0.8, strokeWidth=1.8, clip=True).encode(x=main_x, y=main_y("g:Q"))
m_pts = alt.Chart(pts).mark_circle(size=34, opacity=1, clip=True).encode(x=main_x, y=main_y("rv:Q"), color=color)
m_box = alt.Chart(one).mark_rect(fillOpacity=0, stroke=GRAY, strokeWidth=2.5, strokeDash=[9, 5]).encode(
    x=alt.datum(BOX[0]), x2=alt.datum(BOX[1]), y=alt.datum(BOX[3]), y2=alt.datum(BOX[2]))
m_conn_l = alt.Chart(one).mark_rule(color=GRAY, strokeWidth=2.5).encode(
    x=alt.datum(BOX[0]), y=alt.datum(BOX[3]), x2=alt.value(-SHIFT), y2=alt.value(-GAP))
m_conn_r = alt.Chart(one).mark_rule(color=GRAY, strokeWidth=2.5).encode(
    x=alt.datum(BOX[1]), y=alt.datum(BOX[3]), x2=alt.value(TOP_W - SHIFT), y2=alt.value(-GAP))

# legend (built from a small table of entries)
LEG_SYM_X = [715, 870.5]
LEG_TXT_X = [742.6, 898]
LEG_Y0, LEG_DY = 250.6, 21
leg = pd.DataFrame({
    "label": ["HARPS", "HARPS-N", "ESPRESSO", "HIRES", "best-fit model", "GP component"],
    "col": [0, 0, 0, 1, 1, 1],
    "row": [0, 1, 2, 0, 1, 2],
    "kind": ["pt", "pt", "pt", "pt", "line", "line"],
    "c": [COLORS[0], COLORS[1], COLORS[2], COLORS[3], "#D9A2AF", "#9A9A9A"],
})
leg["sx"] = [LEG_SYM_X[c] for c in leg["col"]]
leg["tx"] = [LEG_TXT_X[c] for c in leg["col"]]
leg["sy"] = [LEG_Y0 + r * LEG_DY for r in leg["row"]]
leg["sx0"] = leg["sx"] - 15.5
leg["sx1"] = leg["sx"] + 15.5
leg_pts = leg[leg["kind"] == "pt"]
leg_lines = leg[leg["kind"] == "line"]

m_legbox = alt.Chart(one).mark_rect(fill="white", stroke="#d0d0d0", strokeWidth=1, cornerRadius=4, opacity=0.92).encode(
    x=alt.value(694), x2=alt.value(1004), y=alt.value(238), y2=alt.value(306))
m_legpts = alt.Chart(leg_pts).mark_circle(size=24, opacity=1).encode(
    x=alt.X("sx:Q", scale=None, axis=None), y=alt.Y("sy:Q", scale=None, axis=None), color=alt.Color("c:N", scale=None))
m_leglines = alt.Chart(leg_lines).mark_rule(strokeWidth=2).encode(
    x=alt.X("sx0:Q", scale=None, axis=None), x2="sx1:Q", y=alt.Y("sy:Q", scale=None, axis=None), color=alt.Color("c:N", scale=None))
m_legtxt = alt.Chart(leg).mark_text(align="left", baseline="middle", font=FONT, fontSize=15, color=INK).encode(
    x=alt.X("tx:Q", scale=None, axis=None), y=alt.Y("sy:Q", scale=None, axis=None), text="label:N")

main = alt.layer(m_err, m_band, m_line, m_gp, m_pts, m_box, m_conn_l, m_conn_r,
                 m_legbox, m_legpts, m_leglines, m_legtxt).properties(width=MAIN_W, height=MAIN_H)

# ------------------------------------------------------------------ residual panel
res_x = alt.X("t:Q", scale=alt.Scale(domain=X_MAIN, nice=False, zero=False),
              axis=alt.Axis(values=[57500, 58000, 58500, 59000, 59500, 60000, 60500], format="d",
                            title="Time [BJD-2400000]", titlePadding=4, labelFlush=False, labelOverlap=False))
res_y = alt.Y("res:Q", scale=alt.Scale(domain=Y_RES, nice=False, zero=False),
              axis=alt.Axis(values=[-10, 0, 10], title="Residuals [m/s]", titleFontSize=17, titleX=-61,
                            titleBaseline="middle", titleAngle=270, labelOverlap=False))
r_zero = alt.Chart(one).mark_rule(color="black", strokeDash=[6, 4], strokeWidth=1.8).encode(y=alt.datum(0))
r_pts = alt.Chart(pts).mark_circle(size=32, opacity=1, clip=True).encode(x=res_x, y=res_y, color=color)
resid = alt.layer(r_zero, r_pts).properties(width=MAIN_W, height=RES_H)

# ------------------------------------------------------------------ assemble
spacer = alt.Chart(one).mark_point(opacity=0).encode(x=alt.value(0), y=alt.value(0)).properties(
    width=SHIFT, height=MAIN_H + RES_H, view=alt.ViewBackground(strokeOpacity=0))
lower = alt.hconcat(spacer, alt.vconcat(main, resid, spacing=0, bounds="flush"), spacing=0, bounds="flush")
chart = alt.vconcat(top, lower, spacing=GAP, bounds="flush").properties(
    padding={"left": 39, "top": 15, "right": 10, "bottom": 0}, background="white")
chart = chart.configure_view(stroke=INK, strokeWidth=1.2).configure_axis(
    labelFont=FONT, titleFont=FONT, labelFontSize=19, titleFontSize=21, labelColor=INK, titleColor=INK,
    tickColor=INK, tickSize=6, tickWidth=1.2, domain=False, grid=False, labelPadding=3, titleFontWeight="normal")

chart.save("out.html", embed_options={"renderer": "svg", "actions": False})
